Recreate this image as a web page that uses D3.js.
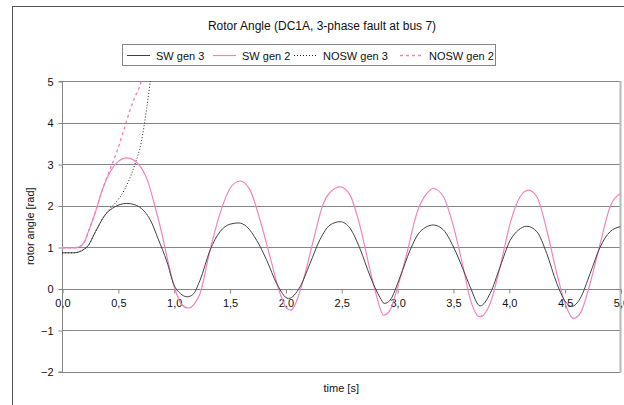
<!DOCTYPE html>
<html>
<head>
<meta charset="utf-8">
<script src="https://cdn.jsdelivr.net/npm/d3@7"></script>
<style>
  html, body { margin: 0; padding: 0; background: #fff; }
  svg { display: block; font-family: "Liberation Sans", Arial, sans-serif; }
</style>
</head>
<body>
<svg id="chart" width="624" height="405"></svg>
<script>
// Rotor angle traces, time in seconds, angle in radians
const sw3Time  = [0, 0.1, 0.15, 0.2, 0.236, 0.3, 0.385, 0.475, 0.58, 0.65, 0.71, 0.8, 0.86, 0.94, 1.0, 1.06, 1.12, 1.17, 1.236, 1.325, 1.415, 1.504, 1.579, 1.654, 1.743, 1.833, 1.922, 2.027, 2.131, 2.22, 2.31, 2.4, 2.49, 2.579, 2.669, 2.758, 2.848, 2.885, 2.937, 3.027, 3.116, 3.206, 3.325, 3.415, 3.505, 3.594, 3.654, 3.743, 3.833, 3.922, 4.012, 4.087, 4.161, 4.251, 4.34, 4.43, 4.519, 4.564, 4.639, 4.728, 4.818, 4.907, 5.0];
const sw3Angle = [0.86, 0.86, 0.88, 0.95, 1.04, 1.37, 1.77, 1.97, 2.05, 2.02, 1.93, 1.6, 1.2, 0.64, 0.1, -0.12, -0.2, -0.15, 0.2, 0.92, 1.37, 1.55, 1.58, 1.49, 1.16, 0.68, 0.12, -0.24, 0.04, 0.6, 1.18, 1.53, 1.61, 1.45, 0.95, 0.3, -0.22, -0.36, -0.28, 0.28, 0.92, 1.37, 1.53, 1.41, 1.0, 0.44, 0.04, -0.42, -0.12, 0.52, 1.16, 1.41, 1.5, 1.37, 0.84, 0.12, -0.36, -0.43, -0.24, 0.36, 1.0, 1.37, 1.49];

const sw2Time  = [0, 0.1, 0.15, 0.2, 0.236, 0.3, 0.355, 0.415, 0.5, 0.58, 0.68, 0.77, 0.83, 0.89, 0.95, 1.01, 1.07, 1.13, 1.19, 1.236, 1.325, 1.415, 1.504, 1.594, 1.684, 1.773, 1.863, 1.952, 2.012, 2.05, 2.072, 2.16, 2.25, 2.34, 2.4, 2.49, 2.579, 2.669, 2.758, 2.818, 2.878, 2.937, 2.997, 3.087, 3.176, 3.266, 3.325, 3.415, 3.505, 3.594, 3.654, 3.743, 3.833, 3.922, 4.012, 4.101, 4.176, 4.251, 4.34, 4.43, 4.504, 4.579, 4.639, 4.728, 4.818, 4.907, 5.0];
const sw2Angle = [0.98, 0.98, 1.0, 1.12, 1.37, 1.85, 2.33, 2.73, 3.05, 3.15, 3.01, 2.57, 2.0, 1.37, 0.64, 0.0, -0.38, -0.47, -0.35, -0.12, 0.92, 1.81, 2.41, 2.59, 2.37, 1.65, 0.76, -0.12, -0.48, -0.52, -0.46, 0.2, 1.16, 2.05, 2.32, 2.45, 2.25, 1.49, 0.44, -0.2, -0.64, -0.52, -0.04, 0.84, 1.81, 2.29, 2.41, 2.21, 1.49, 0.48, -0.25, -0.68, -0.36, 0.52, 1.57, 2.21, 2.37, 2.21, 1.41, 0.36, -0.36, -0.72, -0.6, 0.12, 1.08, 1.97, 2.29];

const nosw3Time  = [0, 0.1, 0.15, 0.2, 0.236, 0.3, 0.385, 0.43, 0.475, 0.565, 0.65, 0.71, 0.758, 0.788, 0.8];
const nosw3Angle = [0.86, 0.86, 0.88, 0.95, 1.04, 1.37, 1.77, 1.93, 2.05, 2.41, 2.97, 3.53, 4.34, 4.94, 5.2];

const nosw2Time  = [0, 0.1, 0.15, 0.2, 0.236, 0.3, 0.355, 0.415, 0.49, 0.549, 0.609, 0.654, 0.707, 0.73];
const nosw2Angle = [0.98, 0.98, 1.0, 1.12, 1.37, 1.85, 2.33, 2.77, 3.29, 3.78, 4.30, 4.62, 4.98, 5.3];

const seriesNames = ["SW gen 3", "SW gen 2", "NOSW gen 3", "NOSW gen 2"];
const xTicks = [0, 0.5, 1, 1.5, 2, 2.5, 3, 3.5, 4, 4.5, 5];
const yTicks = [-2, -1, 0, 1, 2, 3, 4, 5];

const chartTitle = "Rotor Angle (DC1A, 3-phase fault at bus 7)";
const xTitle = "time [s]";
const yTitle = "rotor angle [rad]";

const series = [
  { name: seriesNames[0], t: sw3Time,   v: sw3Angle,   color: "#404040", dash: null,  width: 1 },
  { name: seriesNames[1], t: sw2Time,   v: sw2Angle,   color: "#f283bd", dash: null,  width: 1.2 },
  { name: seriesNames[2], t: nosw3Time, v: nosw3Angle, color: "#202020", dash: "1,2", width: 1 },
  { name: seriesNames[3], t: nosw2Time, v: nosw2Angle, color: "#f283bd", dash: "3,3", width: 1.4 }
];

const svg = d3.select("#chart");
const plot = { left: 62, right: 620.5, top: 81, bottom: 371.5 };

const x = d3.scaleLinear().domain([0, 5]).range([plot.left, plot.right]);
const y = d3.scaleLinear().domain([-2, 5]).range([plot.bottom, plot.top]);

// outer chart frame (extends past the window on the right and bottom)
svg.append("rect")
  .attr("x", 12.5).attr("y", 6.5).attr("width", 640).attr("height", 420)
  .attr("fill", "#fff").attr("stroke", "#555").attr("stroke-width", 1);

// title
svg.append("text")
  .attr("x", 322).attr("y", 30)
  .attr("text-anchor", "middle").attr("font-size", 12).attr("fill", "#111")
  .text(chartTitle);

// horizontal gridlines
svg.append("g").selectAll("line").data(yTicks).join("line")
  .attr("x1", plot.left).attr("x2", plot.right)
  .attr("y1", d => Math.round(y(d)) + 0.5).attr("y2", d => Math.round(y(d)) + 0.5)
  .attr("stroke", "#858585").attr("stroke-width", 1);

// right border of the plot area
svg.append("line")
  .attr("x1", plot.right).attr("x2", plot.right)
  .attr("y1", plot.top).attr("y2", plot.bottom + 1)
  .attr("stroke", "#b8b8b8").attr("stroke-width", 2);

// y axis
const yAxis = d3.axisLeft(y).tickValues(yTicks).tickSize(4).tickPadding(5)
  .tickFormat(d => d3.format("d")(d).replace("-", "-"));
const gy = svg.append("g").attr("transform", `translate(${plot.left + 0.5},0.5)`).call(yAxis);
gy.select(".domain").attr("stroke", "#858585").attr("d", `M-4,${y(5)}H0V${y(-2)}H-4`);
gy.selectAll(".tick line").attr("stroke", "#858585");
gy.selectAll(".tick text").attr("font-size", 11).attr("fill", "#111")
  .attr("font-family", "Liberation Sans, Arial, sans-serif");

// x axis crossing at zero
const xAxis = d3.axisBottom(x).tickValues(xTicks).tickSize(4).tickPadding(6)
  .tickFormat(d => d3.format(".1f")(d).replace(".", ","));
const gx = svg.append("g").attr("transform", `translate(0.5,${Math.round(y(0)) + 0.5})`).call(xAxis);
gx.select(".domain").attr("stroke", "#858585").attr("d", `M${x(0)},0H${x(5)}`);
gx.selectAll(".tick line").attr("stroke", "#858585");
gx.selectAll(".tick text").attr("font-size", 11).attr("fill", "#111")
  .attr("font-family", "Liberation Sans, Arial, sans-serif");

// axis titles
svg.append("text")
  .attr("x", (plot.left + plot.right) / 2).attr("y", 392)
  .attr("text-anchor", "middle").attr("font-size", 11).attr("fill", "#111")
  .text(xTitle);
svg.append("text")
  .attr("transform", `translate(34,${(plot.top + plot.bottom) / 2}) rotate(-90)`)
  .attr("text-anchor", "middle").attr("font-size", 11).attr("fill", "#111")
  .text(yTitle);

// clip to the plot area
svg.append("clipPath").attr("id", "plotClip")
  .append("rect")
  .attr("x", plot.left).attr("y", plot.top)
  .attr("width", plot.right - plot.left).attr("height", plot.bottom - plot.top);

const line = d3.line()
  .x(d => x(d[0])).y(d => y(d[1]))
  .curve(d3.curveMonotoneX);

const drawOrder = [3, 2, 1, 0];
const gLines = svg.append("g").attr("clip-path", "url(#plotClip)");
drawOrder.forEach(i => {
  const s = series[i];
  gLines.append("path")
    .datum(s.t.map((t, k) => [t, s.v[k]]))
    .attr("d", line)
    .attr("fill", "none")
    .attr("stroke", s.color)
    .attr("stroke-width", s.width)
    .attr("stroke-dasharray", s.dash);
});

// legend
const legend = svg.append("g");
legend.append("rect")
  .attr("x", 122.5).attr("y", 44.5).attr("width", 373).attr("height", 21)
  .attr("fill", "#fff").attr("stroke", "#858585");
const legendX = [127, 213, 294, 400];
series.forEach((s, i) => {
  legend.append("line")
    .attr("x1", legendX[i]).attr("x2", legendX[i] + 23)
    .attr("y1", 55.5).attr("y2", 55.5)
    .attr("stroke", s.color).attr("stroke-width", s.width)
    .attr("stroke-dasharray", s.dash);
  legend.append("text")
    .attr("x", legendX[i] + 29).attr("y", 59.5)
    .attr("font-size", 11).attr("fill", "#111")
    .text(s.name);
});
</script>
</body>
</html>
